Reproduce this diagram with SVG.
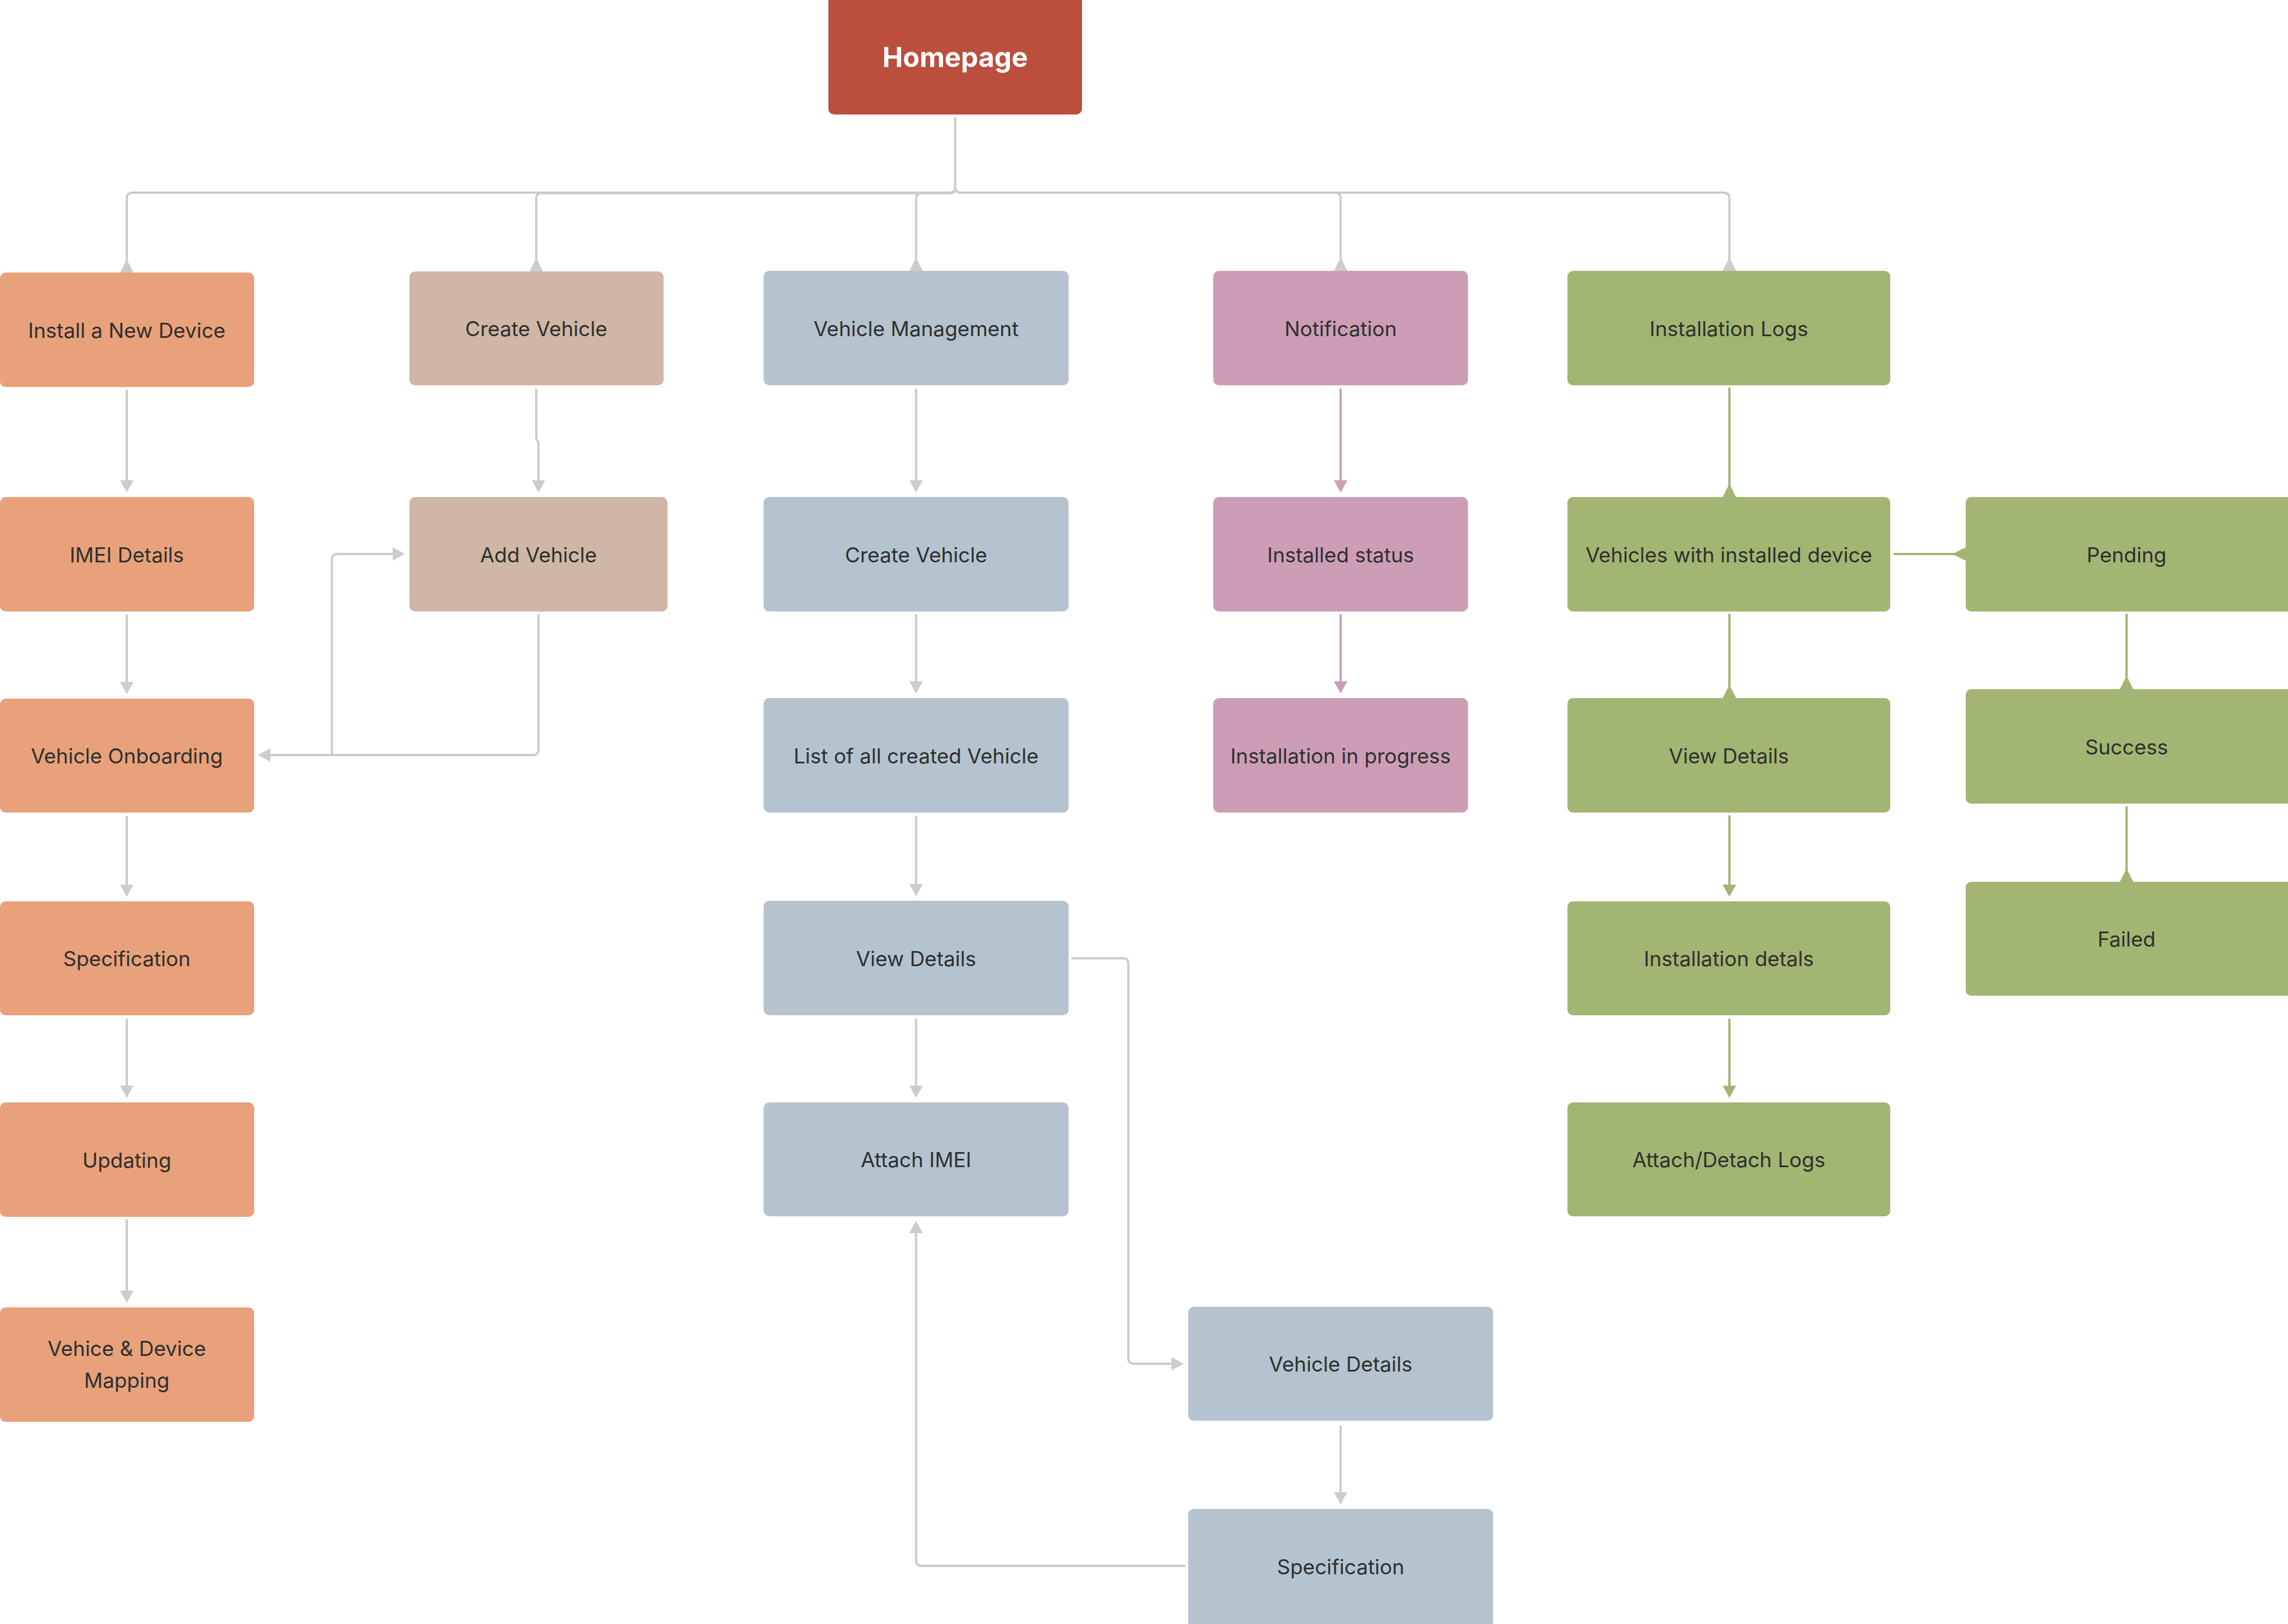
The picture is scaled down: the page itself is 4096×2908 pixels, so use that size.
<svg xmlns="http://www.w3.org/2000/svg" width="4096" height="2908" viewBox="0 0 4096 2908">
<style>
  .n rect { rx: 10; ry: 10; }
  .t { font-family: Inter, "Noto Sans", "Liberation Sans", sans-serif; font-size: 37px; fill: #2D302E; text-anchor: middle; }
  .home rect { fill: #BB4E3D; }
  .home text { font-family: Inter, "Noto Sans", "Liberation Sans", sans-serif; font-size: 49px; font-weight: 700; fill: #FFFFFF; text-anchor: middle; }
  .o rect { fill: #E8A17A; }
  .b rect { fill: #D0B6A6; }
  .s rect { fill: #B5C3CF; }
  .p rect { fill: #CD9DB6; }
  .g rect { fill: #A2B572; }
  .ln { fill: none; stroke-width: 4; stroke-linejoin: round; }
  .gray { stroke: #CCCCCC; }
  .pink { stroke: #CD9DB6; }
  .green { stroke: #A2B572; }
  .hg { fill: #CCCCCC; }
  .hp { fill: #CD9DB6; }
  .hgr { fill: #A2B572; }
</style>
<rect width="4096" height="2908" fill="#FFFFFF"/>

<g id="connectors">
  <!-- Homepage tree -->
  <path class="ln gray" d="M1710,210 V335 Q1710,345 1700,345 H237 Q227,345 227,355 V480"/>
  <polygon class="hg" points="215,488 239,488 227,464"/>
  <path class="ln gray" d="M1710,210 V335 Q1710,346 1700,346 H970 Q960,346 960,356 V478"/>
  <polygon class="hg" points="948,486 972,486 960,462"/>
  <path class="ln gray" d="M1710,210 V335 Q1710,346 1700,346 H1650 Q1640,346 1640,356 V478"/>
  <polygon class="hg" points="1628,485 1652,485 1640,461"/>
  <path class="ln gray" d="M1710,210 V335 Q1710,345 1720,345 H2390 Q2400,345 2400,355 V478"/>
  <polygon class="hg" points="2388,485 2412,485 2400,461"/>
  <path class="ln gray" d="M1710,210 V335 Q1710,345 1720,345 H3086 Q3096,345 3096,355 V478"/>
  <polygon class="hg" points="3084,485 3108,485 3096,461"/>

  <!-- Column 1 -->
  <path class="ln gray" d="M227,698 V862"/>
  <polygon class="hg" points="215,860 239,860 227,882"/>
  <path class="ln gray" d="M227,1100 V1223"/>
  <polygon class="hg" points="215,1221 239,1221 227,1243"/>
  <path class="ln gray" d="M227,1461 V1586"/>
  <polygon class="hg" points="215,1584 239,1584 227,1606"/>
  <path class="ln gray" d="M227,1824 V1946"/>
  <polygon class="hg" points="215,1944 239,1944 227,1966"/>
  <path class="ln gray" d="M227,2183 V2313"/>
  <polygon class="hg" points="215,2311 239,2311 227,2333"/>

  <!-- Column 2 -->
  <path class="ln gray" d="M960,696 V786 L964,792 V862"/>
  <polygon class="hg" points="952,860 976,860 964,882"/>
  <path class="ln gray" d="M964,1100 V1342 Q964,1352 954,1352 H480"/>
  <polygon class="hg" points="484,1340 484,1364 462,1352"/>
  <path class="ln gray" d="M594,1352 V1002 Q594,992 604,992 H706"/>
  <polygon class="hg" points="703,980 703,1004 725,992"/>

  <!-- Column 3 -->
  <path class="ln gray" d="M1640,696 V862"/>
  <polygon class="hg" points="1628,860 1652,860 1640,882"/>
  <path class="ln gray" d="M1640,1100 V1222"/>
  <polygon class="hg" points="1628,1220 1652,1220 1640,1242"/>
  <path class="ln gray" d="M1640,1461 V1585"/>
  <polygon class="hg" points="1628,1583 1652,1583 1640,1605"/>
  <path class="ln gray" d="M1640,1824 V1946"/>
  <polygon class="hg" points="1628,1944 1652,1944 1640,1966"/>
  <path class="ln gray" d="M1918,1716 H2010 Q2020,1716 2020,1726 V2432 Q2020,2442 2030,2442 H2099"/>
  <polygon class="hg" points="2097,2430 2097,2454 2119,2442"/>
  <path class="ln gray" d="M2400,2552 V2674"/>
  <polygon class="hg" points="2388,2672 2412,2672 2400,2694"/>
  <path class="ln gray" d="M2122,2804 H1650 Q1640,2804 1640,2794 V2206"/>
  <polygon class="hg" points="1628,2208 1652,2208 1640,2186"/>

  <!-- Column 4 (pink) -->
  <path class="ln pink" d="M2400,696 V862"/>
  <polygon class="hp" points="2388,860 2412,860 2400,882"/>
  <path class="ln pink" d="M2400,1100 V1222"/>
  <polygon class="hp" points="2388,1220 2412,1220 2400,1242"/>

  <!-- Column 5/6 (green) -->
  <path class="ln green" d="M3096,694 V884"/>
  <polygon class="hgr" points="3084,890 3108,890 3096,866"/>
  <path class="ln green" d="M3096,1099 V1244"/>
  <polygon class="hgr" points="3084,1250 3108,1250 3096,1226"/>
  <path class="ln green" d="M3096,1460 V1586"/>
  <polygon class="hgr" points="3084,1584 3108,1584 3096,1606"/>
  <path class="ln green" d="M3096,1824 V1946"/>
  <polygon class="hgr" points="3084,1944 3108,1944 3096,1966"/>
  <path class="ln green" d="M3390,992 H3510"/>
  <polygon class="hgr" points="3519,980 3519,1004 3495,992"/>
  <path class="ln green" d="M3807,1099 V1228"/>
  <polygon class="hgr" points="3795,1234 3819,1234 3807,1210"/>
  <path class="ln green" d="M3807,1444 V1573"/>
  <polygon class="hgr" points="3795,1579 3819,1579 3807,1555"/>
</g>

<g id="homepage" class="n home"><rect x="1483" y="-12" width="454" height="217"/><text x="1710" y="120">Homepage</text></g>

<g id="install-new-device" class="n o"><rect x="0" y="488" width="455" height="205"/><text class="t" x="227" y="605">Install a New Device</text></g>
<g id="imei-details" class="n o"><rect x="0" y="890" width="455" height="205"/><text class="t" x="227" y="1007">IMEI Details</text></g>
<g id="vehicle-onboarding" class="n o"><rect x="0" y="1251" width="455" height="204"/><text class="t" x="227" y="1367">Vehicle Onboarding</text></g>
<g id="specification-1" class="n o"><rect x="0" y="1614" width="455" height="204"/><text class="t" x="227" y="1730">Specification</text></g>
<g id="updating" class="n o"><rect x="0" y="1974" width="455" height="205"/><text class="t" x="227" y="2091">Updating</text></g>
<g id="vehicle-device-mapping" class="n o"><rect x="0" y="2341" width="455" height="205"/><text class="t" x="227" y="2428">Vehice &amp; Device</text><text class="t" x="227" y="2485">Mapping</text></g>

<g id="create-vehicle-1" class="n b"><rect x="733" y="486" width="455" height="204"/><text class="t" x="960" y="602">Create Vehicle</text></g>
<g id="add-vehicle" class="n b"><rect x="733" y="890" width="462" height="205"/><text class="t" x="964" y="1007">Add Vehicle</text></g>

<g id="vehicle-management" class="n s"><rect x="1367" y="485" width="546" height="205"/><text class="t" x="1640" y="602">Vehicle Management</text></g>
<g id="create-vehicle-2" class="n s"><rect x="1367" y="890" width="546" height="205"/><text class="t" x="1640" y="1007">Create Vehicle</text></g>
<g id="list-created-vehicle" class="n s"><rect x="1367" y="1250" width="546" height="205"/><text class="t" x="1640" y="1367">List of all created Vehicle</text></g>
<g id="view-details-1" class="n s"><rect x="1367" y="1613" width="546" height="205"/><text class="t" x="1640" y="1730">View Details</text></g>
<g id="attach-imei" class="n s"><rect x="1367" y="1974" width="546" height="204"/><text class="t" x="1640" y="2090">Attach IMEI</text></g>
<g id="vehicle-details" class="n s"><rect x="2127" y="2340" width="546" height="204"/><text class="t" x="2400" y="2456">Vehicle Details</text></g>
<g id="specification-2" class="n s"><rect x="2127" y="2702" width="546" height="216"/><text class="t" x="2400" y="2819">Specification</text></g>

<g id="notification" class="n p"><rect x="2172" y="485" width="456" height="205"/><text class="t" x="2400" y="602">Notification</text></g>
<g id="installed-status" class="n p"><rect x="2172" y="890" width="456" height="205"/><text class="t" x="2400" y="1007">Installed status</text></g>
<g id="installation-in-progress" class="n p"><rect x="2172" y="1250" width="456" height="205"/><text class="t" x="2400" y="1367">Installation in progress</text></g>

<g id="installation-logs" class="n g"><rect x="2806" y="485" width="578" height="205"/><text class="t" x="3095" y="602">Installation Logs</text></g>
<g id="vehicles-installed-device" class="n g"><rect x="2806" y="890" width="578" height="205"/><text class="t" x="3095" y="1007">Vehicles with installed device</text></g>
<g id="view-details-2" class="n g"><rect x="2806" y="1250" width="578" height="205"/><text class="t" x="3095" y="1367">View Details</text></g>
<g id="installation-detals" class="n g"><rect x="2806" y="1614" width="578" height="204"/><text class="t" x="3095" y="1730">Installation detals</text></g>
<g id="attach-detach-logs" class="n g"><rect x="2806" y="1974" width="578" height="204"/><text class="t" x="3095" y="2090">Attach/Detach Logs</text></g>

<g id="pending" class="n g"><rect x="3519" y="890" width="590" height="205"/><text class="t" x="3807" y="1007">Pending</text></g>
<g id="success" class="n g"><rect x="3519" y="1234" width="590" height="205"/><text class="t" x="3807" y="1351">Success</text></g>
<g id="failed" class="n g"><rect x="3519" y="1579" width="590" height="204"/><text class="t" x="3807" y="1695">Failed</text></g>
</svg>
